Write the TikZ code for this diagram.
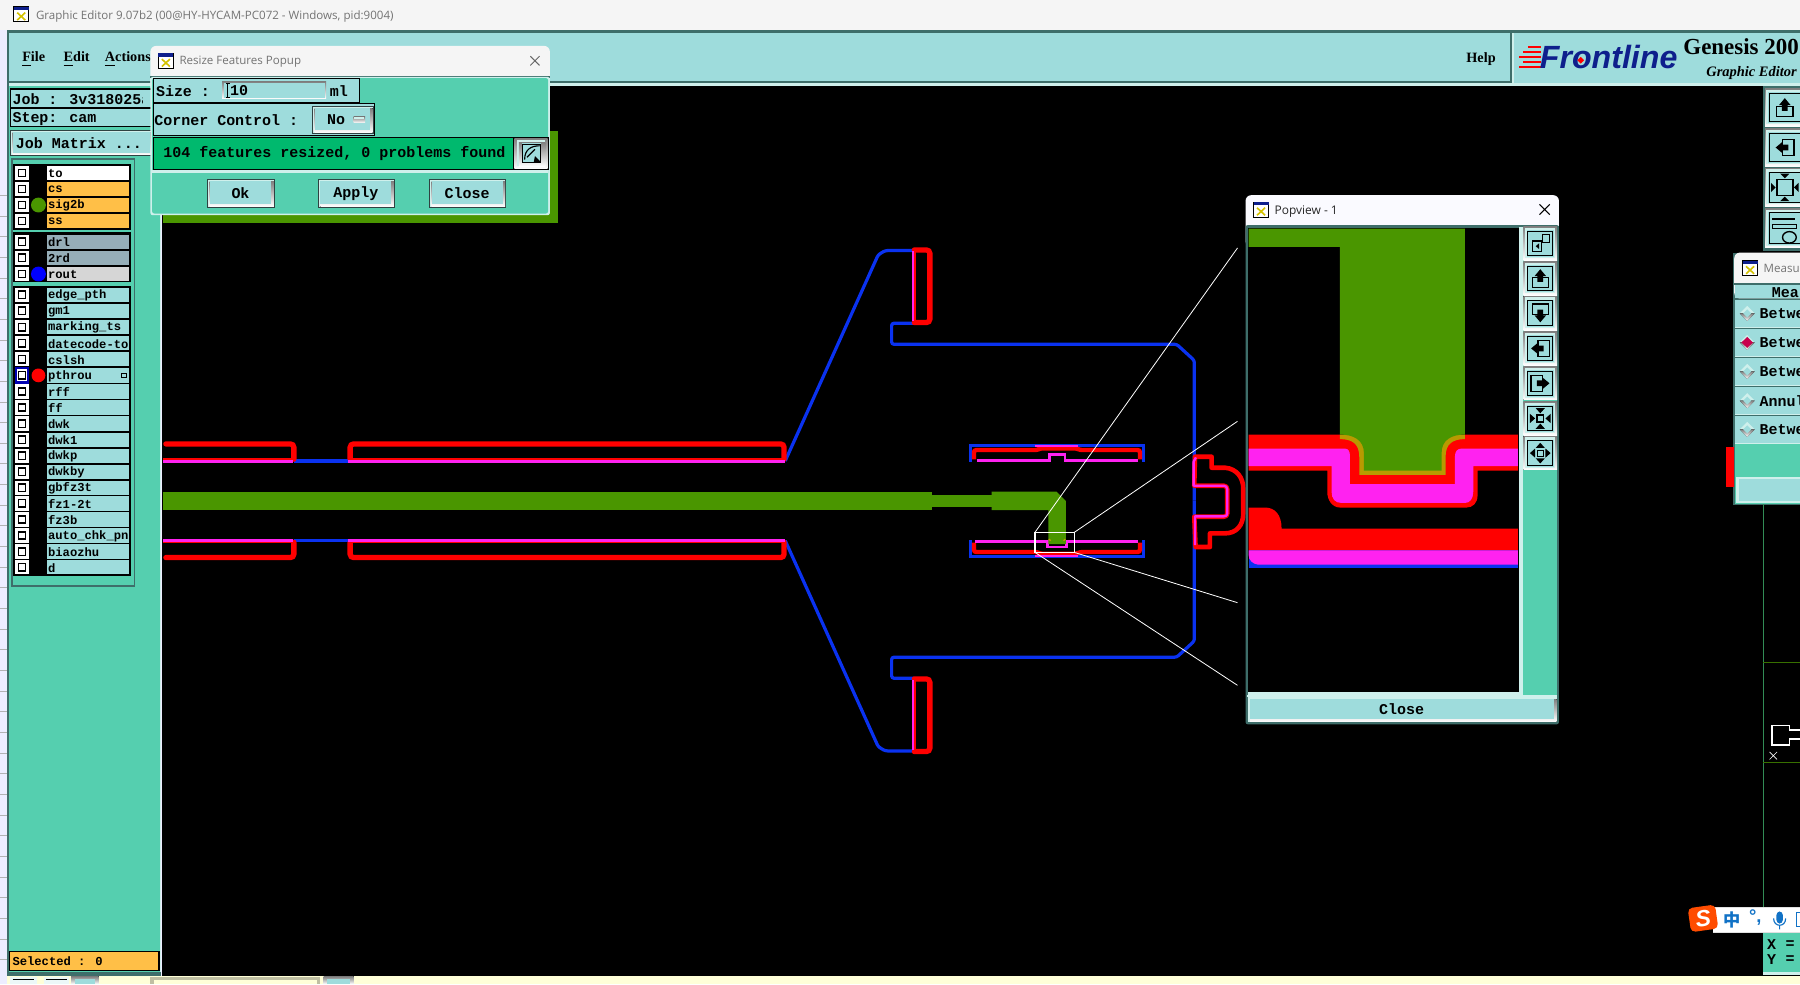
\documentclass[tikz,border=0pt]{standalone}
\usepackage{fontspec}
\setmainfont{Liberation Sans}
\newfontfamily\uimono{Liberation Mono}
\newfontfamily\uiserif{Liberation Serif}
\newfontfamily\uititle{Open Sans}
\newfontfamily\uicjk{Noto Sans CJK SC}
\definecolor{panel}{HTML}{55CFAF}
\definecolor{lteal}{HTML}{9EDCDC}
\definecolor{hilite}{HTML}{CFF0EC}
\definecolor{shade}{HTML}{3F8F83}
\definecolor{dkedge}{HTML}{3E6E6A}
\definecolor{trgreen}{HTML}{4A9600}
\definecolor{trred}{HTML}{FF0000}
\definecolor{trmag}{HTML}{FF22F0}
\definecolor{trblue}{HTML}{0A32F0}
\definecolor{olive}{HTML}{B89A00}
\definecolor{statusg}{HTML}{00B96E}
\definecolor{orangel}{HTML}{FFBF47}
\definecolor{grayl}{HTML}{96AEB8}
\definecolor{pale}{HTML}{FFFFD8}
\definecolor{navy}{HTML}{0E1F8C}
\definecolor{ime}{HTML}{1172C6}
\definecolor{crimson}{HTML}{C8004C}
\tikzset{
  mono/.style={font=\uimono\bfseries\fontsize{6.53}{7}\selectfont,inner sep=0pt,anchor=west,text=black},
  laylab/.style={font=\uimono\bfseries\fontsize{5.3}{6}\selectfont,inner sep=0pt,anchor=west,text=black},
  menu/.style={font=\uiserif\bfseries\fontsize{6.2}{7}\selectfont,inner sep=0pt,anchor=west,text=black},
  wintitle/.style={font=\uititle\fontsize{5.03}{7}\selectfont,inner sep=0pt,anchor=west,text=black!55},
  redt/.style={draw=trred,line width=2.3pt,rounded corners=1.5pt,line cap=round},
  redu/.style={draw=trred,line width=2pt,rounded corners=1.5pt},
  magt/.style={draw=trmag,line width=1.3pt,rounded corners=1.5pt},
  bluet/.style={draw=trblue,line width=1.4pt,rounded corners=1pt},
  padr/.style={draw=trred,line width=1.9pt,rounded corners=1pt},
  padm/.style={draw=trmag,line width=1.25pt},
  ic/.style={draw=black,line width=0.6pt},
  zoomline/.style={draw=white,line width=0.35pt},
}
\newcommand\bevel[4]{%
  \fill[black!70!lteal] (#1,#2) rectangle (#3,#4);
  \fill[hilite] ({#1+1},{#2+1}) rectangle ({#3-1},{#4-1});
  \fill[shade] ({#1+2},{#2+2}) rectangle ({#3-1},{#4-1});
  \fill[lteal] ({#1+2},{#2+2}) rectangle ({#3-3},{#4-3});
}
\newcommand\tbbtn[5]{%
  \fill[shade] (#1,#2) rectangle (#3,#4);
  \fill[hilite] ({#1+1},{#2+1}) rectangle ({#3-2},{#4-2});
  \fill[lteal] ({#1+3},{#2+3}) rectangle ({#3-3},{#4-3});
  \draw[black,line width=0.4pt] ({#1+4},{#2+4}) rectangle ({#3-4},{#4-4});
  \begin{scope}[shift={({(#1+#3)/2},{(#2+#4)/2})}] #5 \end{scope}
}
\newcommand\xicon[2]{%
  \begin{scope}[shift={(#1,#2)}]
    \fill[white] (0,0) rectangle (13,13);
    \draw[black,line width=0.4pt] (0,0) rectangle (13,13);
    \fill[navy] (0,0) rectangle (13,3);
    \draw[olive!60!yellow,line width=0.7pt] (3,5) -- (10,11.5) (10,5) -- (3,11.5);
  \end{scope}
}
\newcommand\icA{\draw[ic] (-7,-2) rectangle (1,7); \draw[ic,line width=0.4pt] (2,-8) rectangle (8,-1); \fill (-4,2.5) -- (-1,0) -- (-1,5) -- cycle;}
\newcommand\icU{\draw[ic] (-7,-1) rectangle (7,8); \fill (0,-8) -- (5,-2) -- (2.5,-2) -- (2.5,3) -- (-2.5,3) -- (-2.5,-2) -- (-5,-2) -- cycle;}
\newcommand\icD{\draw[ic] (-7,-8) rectangle (7,1); \fill (0,8) -- (5,2) -- (2.5,2) -- (2.5,-3) -- (-2.5,-3) -- (-2.5,2) -- (-5,2) -- cycle;}
\newcommand\icL{\draw[ic] (-2,-7) rectangle (8,7); \fill (-8,0) -- (-2,-5) -- (-2,-2.5) -- (3,-2.5) -- (3,2.5) -- (-2,2.5) -- (-2,5) -- cycle;}
\newcommand\icR{\draw[ic] (-8,-7) rectangle (2,7); \fill (8,0) -- (2,-5) -- (2,-2.5) -- (-3,-2.5) -- (-3,2.5) -- (2,2.5) -- (2,5) -- cycle;}
\newcommand\icI{\draw[ic] (-3,-3) rectangle (3,3); \foreach \a in {0,90,180,270}{\fill[rotate=\a] (4.5,0) -- (9,-4) -- (9,4) -- cycle;}}
\newcommand\icO{\draw[ic,line width=0.4pt] (-2.5,-2.5) rectangle (2.5,2.5); \foreach \a in {0,90,180,270}{\fill[rotate=\a] (9,0) -- (4.5,-4) -- (4.5,4) -- cycle;}}
\newcommand\icF{\draw[ic,line width=0.8pt] (-7,-7) rectangle (7,7); \foreach \a in {0,90,180,270}{\fill[rotate=\a] (8,0) -- (12,-4) -- (12,4) -- cycle;}}
\newcommand\icT{\draw[black,line width=1pt] (-11,-8) -- (9,-8); \draw[black,line width=0.4pt] (-11,-3) -- (10,-3) -- (10,0) -- (-11,0) -- cycle; \draw[ic] (4,8) ellipse (6 and 5);}
\newcommand\traceTop{%
  \draw[bluet] (256,401.5) -- (303,401.5);
  \draw[bluet] (684,401.5) -- (765,222) -- (771,218.3) -- (796,218.3);
  \draw[bluet] (796,281.6) -- (776.7,281.6) -- (776.7,299.9) -- (1025,299.9) -- (1040.4,314) -- (1040.4,436.2);
  \draw[redt] (144.5,386.7) -- (256,386.7) -- (256,400);
  \draw[redu] (142,401.3) -- (254,401.3);
  \draw[magt] (142,401.7) -- (255,401.7);
  \draw[redt] (305,400) -- (305,386.7) -- (683,386.7) -- (683,400);
  \draw[redu] (304,401.3) -- (683,401.3);
  \draw[magt] (303,401.7) -- (684,401.7);
  \draw[redt] (796.5,217.7) -- (810,217.7) -- (810,281) -- (796.5,281);
  \draw[draw=trred,line width=1.4pt] (796.4,218) -- (796.4,281);
  \draw[draw=trmag,line width=0.8pt] (795.2,219) -- (795.2,280);
}
\begin{document}
\begin{tikzpicture}[x=0.5pt,y=-0.5pt]
\path[use as bounding box] (0,0) rectangle (1568,857.2);
\clip (0,0) rectangle (1568,857.2);
% desktop, title bar
\fill[white!93!blue] (0,0) rectangle (1568,857.2);
\foreach \yy in {170,188,206,224,242,260,278,296,314,332,350,368,386,404,422,440,458,476,494,512,530,548,566,584,602,620,638,656,674,692,710,728,746,764,782,800,818,836}
  \draw[black!30,line width=0.25pt] (0,\yy) -- (6,\yy);
\fill[black!4] (0,0) rectangle (1568,26);
\fill[dkedge] (6,26) rectangle (1568,28.5);
\xicon{12}{6}
\node[wintitle] (wtitle) at (31,14.5) {Graphic Editor 9.07b2 (00@HY-HYCAM-PC072 - Windows, pid:9004)};
% main window
\fill[dkedge] (6,28) rectangle (8.5,857);
\fill[lteal] (8,28.5) rectangle (1568,72);
\fill[hilite] (8,72) rectangle (1568,75);
\fill[dkedge] (8,70.5) rectangle (1316,72);
\fill[dkedge] (1315.5,28.5) rectangle (1317,72);
\fill[hilite] (1317,28.5) rectangle (1318.5,72);
\fill[black] (141,75) rectangle (1568,850);
\fill[panel] (8,75) rectangle (139,850);
\fill[hilite] (139,75) rectangle (140.5,850);
\fill[pale] (6,850) rectangle (1568,857.2);
% menu
\node[menu] (mfile) at (19,51.5) {\underline{F}ile};
\node[menu] (medit) at (55,51.5) {\underline{E}dit};
\node[menu] (mact) at (91,51.5) {\underline{A}ctions};
\node[menu] (mhelp) at (1277,51.5) {Help};
% logo
\foreach \yy/\xx in {40.6/1331,45/1327,49.4/1323.5,53.8/1327,58/1323.5}
  \draw[trred,line width=0.9pt] (\xx,\yy) -- (1342,\yy);
\node[font=\bfseries\itshape\fontsize{14}{15}\selectfont,text=navy,inner sep=0pt,anchor=west] (flogo) at (1341,50) {Frontline};
\fill[trred] (1377,49.5) -- (1380,52.5) -- (1377,55.5) -- (1374,52.5) -- cycle;
\node[font=\uiserif\bfseries\fontsize{10}{11}\selectfont,inner sep=0pt,anchor=west] (gen) at (1466,41) {Genesis 200};
\node[font=\uiserif\bfseries\itshape\fontsize{6.3}{7}\selectfont,inner sep=0pt,anchor=west] (ged) at (1486,64) {Graphic Editor};
% left panel top rows
\fill[black] (9,77) rectangle (132,111);
\fill[lteal] (10,78) rectangle (132,93);
\fill[lteal] (10,95) rectangle (132,110);
\begin{scope}
  \clip (10,78) rectangle (124.5,110);
  \node[mono] (job) at (10.5,86) {Job : 3v318025a};
  \node[mono] (stepl) at (10.5,103.5) {Step: cam};
\end{scope}
\bevel{9}{113}{134}{136}
\node[mono] (jm) at (13.5,124.5) {Job Matrix ...};
% layer list
\fill[dkedge] (10,138) rectangle (118,511);
\fill[panel] (11,139) rectangle (117,510);
\fill[black] (11,142.5) rectangle (114.5,200);
\fill[black] (11,202.5) rectangle (114.5,246);
\fill[black] (11,249) rectangle (114.5,502);
\begin{scope}
\clip (11,142) rectangle (112.5,502);
\foreach \yy/\lab/\col/\nm in {
 150.7/to/white/a,164.6/cs/orangel/b,178.6/sig2b/orangel/c,192.5/ss/orangel/d,
 210.5/drl/grayl/e,224.6/2rd/grayl/f,238.7/rout/black!16/g,
 256.7/edge\_pth/lteal/h,270.8/gm1/lteal/i,285/marking\_ts/lteal/j,299/datecode-to/lteal/k,313/cslsh/lteal/l,
 327/pthrou/lteal/m,341/rff/lteal/n,355/ff/lteal/o,369/dwk/lteal/p,383/dwk1/lteal/q,397/dwkp/lteal/r,
 411/dwkby/lteal/s,425/gbfz3t/lteal/t,438.5/fz1-2t/lteal/u,452.5/fz3b/lteal/v,466.5/auto\_chk\_pnl/lteal/w,480.5/biaozhu/lteal/x,494/d/lteal/y}{
  \fill[\col] (41,\yy-6.2) rectangle (112.5,\yy+6.2);
  \fill[white] (13,\yy-6.2) rectangle (25.2,\yy+6.2);
  \draw[black,line width=0.65pt] (16,\yy-3.2) rectangle (22.3,\yy+3.2);
  \node[laylab] (lay\nm) at (41.5,\yy+0.5) {\lab};
}
\end{scope}
\draw[blue!70!black,line width=1pt] (14,320.8) rectangle (24.2,333.2);
\fill[trgreen] (33.5,178.6) circle (6.5);
\fill[blue] (33.5,238.7) circle (6.5);
\fill[trred] (33.5,327) circle (6);
\fill[black] (105.5,324.5) rectangle (110.5,329.5);
\fill[lteal] (106.5,325.5) rectangle (109.5,328.5);
% selected
\fill[black] (8,828.5) rectangle (139,846);
\fill[orangel] (9,829.5) rectangle (138,845);
\node[laylab] (sel) at (10.5,837.5) {Selected : 0};
% bottom strip
\fill[dkedge] (6,846.5) rectangle (140.5,850);
\foreach \a/\b in {9/32,38/60}{\fill[white!80!lteal] (\a,851) rectangle (\b,857.2); \draw[black,line width=0.4pt] (\a+2,853.5) -- (\b-2,853.5);}
\fill[shade] (62,850.5) rectangle (86,857.2); \fill[lteal] (65,853) rectangle (83,857.2);
\fill[black!25!pale] (131,851) rectangle (279,857.2);
\fill[pale] (134,853.5) rectangle (276,857.2);
\fill[shade] (282,850.5) rectangle (308,857.2); \fill[lteal] (285,853) rectangle (305,857.2);
% board outline, traces
\fill[trgreen] (142,114) rectangle (486,194);
\traceTop
\begin{scope}[shift={(0,872.4)},yscale=-1] \traceTop \end{scope}
% green trace
\fill[trgreen] (142,428.8) rectangle (812,444.2);
\fill[trgreen] (812,431.2) rectangle (864,441.4);
\begin{scope}[shift={(827.5,365.9)},scale=1/3.444]
  % upper pad
  \draw[trblue,line width=1.15pt] (62,125) -- (62,77) -- (581,77) -- (581,125);
  \draw[padr] (72,118) -- (72,90) -- (262,90) -- (270,85) -- (380,85) -- (390,90) -- (570,90) -- (570,118);
  \draw[padm] (80,121) -- (298,121) -- (298,103) -- (345,103) -- (345,121) -- (563,121);
  \draw[padm] (255,78) -- (385,78);
  % lower pad
  \draw[trblue,line width=1.15pt] (62,360) -- (62,409) -- (581,409) -- (581,360);
  \draw[padr] (72,368) -- (72,396) -- (262,396) -- (270,401) -- (380,401) -- (390,396) -- (570,396) -- (570,368);
  \draw[padm] (75,365) -- (292,365) -- (292,381) -- (350,381) -- (350,365) -- (565,365);
  \draw[padm] (255,408) -- (385,408);
  % neck and elbow
  \fill[trgreen] (125,215) -- (320,215) -- (348,243) -- (348,372) -- (295,372) -- (295,270) -- (125,270) -- cycle;
  \draw[olive,line width=0.6pt] (297,357) -- (302,362) (346,357) -- (341,362);
  % C shape
  \draw[draw=trred,line width=2pt,line join=round] (735,110) -- (785,110) -- (785,143) -- (825,143) .. controls (862,146) and (880,175) .. (880,205) -- (880,280) .. controls (880,315) and (860,340) .. (825,340) -- (780,340) -- (780,381) -- (737,381) -- (733,290) -- (822,290) .. controls (828,290) and (832,286) .. (832,280) -- (832,208) .. controls (832,202) and (828,197) .. (822,197) -- (733,197) -- cycle;
  \draw[draw=trmag,line width=1pt,line join=round] (738,112) -- (731,125) -- (731,197) -- (822,197) .. controls (828,197) and (832,202) .. (832,208) -- (832,280) .. controls (832,286) and (828,289) .. (822,289) -- (735,289) -- (735,375);
  % zoom box
  \coordinate (ztl) at (255,337); \coordinate (ztr) at (373,337);
  \coordinate (zbl) at (255,397); \coordinate (zbr) at (373,397);
  \draw[zoomline,line width=0.5pt] (ztl) rectangle (zbr);
\end{scope}
\coordinate (e1) at (1078,216); \coordinate (e2) at (1078,367); \coordinate (e3) at (1078,525); \coordinate (e4) at (1078,597);
\draw[zoomline] (ztl) -- (e1) (ztr) -- (e2) (zbr) -- (e3) (zbl) -- (e4);
% popup
\fill[black!4,rounded corners=2.5pt] (131,40) rectangle (479,80);
\fill[dkedge] (131,66) rectangle (479,68);
\fill[hilite,rounded corners=1pt] (131,67) rectangle (479,187.5);
\fill[panel,rounded corners=1pt] (132.5,68) rectangle (477.5,186);
\xicon{138}{46.5}
\node[wintitle] (ptitle) at (156,54) {Resize Features Popup};
\draw[black!60,line width=0.4pt] (462,49) -- (470,57) (470,49) -- (462,57);
\fill[black] (133,68) rectangle (313.5,89.5);
\fill[lteal] (134,69) rectangle (312.5,88.5);
\fill[shade] (193.5,71) rectangle (284,86);
\fill[lteal] (195.5,72) rectangle (283.5,85.5);
\node[mono] (psize) at (135.5,79) {Size :};
\node[mono] (pval) at (200,79) {10};
\node[mono] (pml) at (287,79) {ml};
\draw[black,line width=0.4pt] (198.5,73) -- (198.5,85) (197,73) -- (200,73) (197,85) -- (200,85);
\fill[black] (133,90) rectangle (326.5,118.5);
\fill[lteal] (134,91) rectangle (325.5,117.5);
\node[mono] (pcc) at (134,104.5) {Corner Control :};
\bevel{272}{92.5}{325.5}{116.5}
\node[mono] (pno) at (284.5,104.5) {No};
\fill[shade] (308,101.5) rectangle (318,107);
\fill[hilite] (308,101.5) rectangle (317,104);
\fill[black] (133,119) rectangle (478,148);
\fill[statusg] (134,120) rectangle (447,147);
\node[mono] (pstat) at (142,133.5) {104 features resized, 0 problems found};
\fill[shade] (448,120.5) rectangle (477,147);
\fill[hilite] (450,122) rectangle (475,145);
\fill[shade] (452,124) rectangle (475,145);
\fill[lteal] (455,125) rectangle (471.5,142);
\draw[black,line width=0.4pt] (455.5,125.5) rectangle (471,141.5);
\draw[black,line width=0.5pt] (457,139) .. controls (457,130) and (463,127) .. (470,127) (459,137) -- (466,130);
\fill[black] (466,136) -- (471,141) -- (465,141) -- cycle;
\fill[hilite] (132.5,148.5) rectangle (477.5,150.5);
\bevel{180.5}{156}{239.5}{181}
\bevel{277}{156}{344}{181}
\bevel{374}{156}{441}{181}
\node[mono,anchor=center] (pok) at (209.5,168.5) {Ok};
\node[mono,anchor=center] (pap) at (310,168.5) {Apply};
\node[mono,anchor=center] (pcl) at (407,168.5) {Close};
% right toolbar
\fill[dkedge] (1535.5,75) rectangle (1568,219);
\tbbtn{1537.5}{77}{1572}{110}{\icU}
\tbbtn{1537.5}{112}{1572}{145}{\icL}
\tbbtn{1537.5}{146.6}{1572}{180}{\icF}
\tbbtn{1537.5}{181.5}{1572}{216}{\icT}
% popview
\fill[black!2!blue!2!white,rounded corners=2.5pt] (1085,170) rectangle (1358,215);
\fill[dkedge,rounded corners=1pt] (1085,196) rectangle (1358,631);
\fill[panel] (1327,198) rectangle (1356.5,605);
\fill[hilite] (1323.4,198) rectangle (1326.5,605);
\fill[hilite] (1087,602.5) rectangle (1326.5,605);
\fill[black] (1087.5,199) rectangle (1323.4,602.5);
\xicon{1092}{176}
\node[font=\uititle\fontsize{5.2}{7}\selectfont,inner sep=0pt,anchor=west,text=black!85] (pvt) at (1110,184) {Popview - 1};
\draw[black,line width=0.45pt] (1341,178) -- (1350,187) (1350,178) -- (1341,187);
\fill[dkedge] (1326.5,197) rectangle (1358,200);
\tbbtn{1327}{197.4}{1356.5}{226.5}{\icA}
\tbbtn{1327}{228}{1356.5}{257}{\icU}
\tbbtn{1327}{258}{1356.5}{287.5}{\icD}
\tbbtn{1327}{289}{1356.5}{318}{\icL}
\tbbtn{1327}{319.4}{1356.5}{348.4}{\icR}
\tbbtn{1327}{350}{1356.5}{379}{\icI}
\tbbtn{1327}{380}{1356.5}{409.4}{\icO}
\fill[hilite] (1086.5,605) rectangle (1356.5,607.5);
\fill[hilite] (1087,607) rectangle (1356,628.5);
\fill[shade] (1089,609) rectangle (1356,628.5);
\fill[lteal] (1089,609) rectangle (1354,626.5);
\node[mono,anchor=center] (pvc) at (1221,618) {Close};
% popview contents
\begin{scope}[shift={(1080.1,165.5)},xscale=1/3.444,yscale=1/3.272]
  \fill[trred] (26,697) -- (834,697) -- (834,800) -- (713,800) -- (713,870) .. controls (713,893) and (698,905) .. (680,905) -- (300,905) .. controls (278,905) and (262,885) .. (262,860) -- (262,800) -- (26,800) -- cycle;
  \fill[trmag] (26,737) -- (315,737) .. controls (325,737) and (330,745) .. (330,757) -- (330,838) -- (645,838) -- (645,760) .. controls (645,745) and (652,737) .. (665,737) -- (834,737) -- (834,787) -- (700,787) -- (700,860) .. controls (700,880) and (690,892) .. (675,892) -- (305,892) .. controls (285,892) and (275,880) .. (275,860) -- (275,787) -- (26,787) -- cycle;
  \fill[olive] (300,697) -- (675,697) -- (675,710) .. controls (640,710) and (617,722) .. (617,760) -- (617,812) -- (358,812) -- (358,760) .. controls (358,722) and (335,710) .. (300,710) -- cycle;
  \fill[trgreen] (26,110) -- (675,110) -- (675,697) .. controls (635,697) and (605,712) .. (605,750) -- (605,800) -- (372,800) -- (372,750) .. controls (372,712) and (340,697) .. (300,697) -- (300,162) -- (26,162) -- cycle;
  \fill[trblue] (26,1027) rectangle (834,1078);
  \fill[trred] (26,905) -- (75,905) .. controls (105,905) and (125,925) .. (125,965) -- (834,965) -- (834,1027) -- (26,1027) -- cycle;
  \fill[trmag] (26,1027) -- (834,1027) -- (834,1068) -- (55,1068) .. controls (38,1066) and (26,1055) .. (26,1040) -- cycle;
\end{scope}
% measure window
\fill[dkedge] (1510,220) rectangle (1568,440);
\fill[black!4,rounded corners=2.5pt] (1510.7,220) rectangle (1580,260);
\fill[dkedge] (1510.7,246.5) rectangle (1568,248);
\xicon{1518}{227}
\node[wintitle] (mtitle) at (1536,234) {Measu};
\fill[lteal] (1511.5,248) rectangle (1568,260);
\node[mono] (mhead) at (1543,254.5) {Mea};
\foreach \ya/\yb/\lab/\nm in {261/285/Betwe/a,286.6/310/Betwe/b,312/335/Betwe/c,337/361/Annul/d,362/386/Betwe/e}{
  \fill[lteal] (1511.5,\ya) rectangle (1568,\yb);
  \fill[hilite] (1511.5,\yb) rectangle (1568,\yb+0.5);
  \fill[hilite] (1522,{(\ya+\yb)/2-6.5}) -- (1528.5,{(\ya+\yb)/2}) -- (1515.5,{(\ya+\yb)/2}) -- cycle;
  \fill[shade] (1528.5,{(\ya+\yb)/2}) -- (1522,{(\ya+\yb)/2+6.5}) -- (1515.5,{(\ya+\yb)/2}) -- cycle;
  \fill[lteal] (1522,{(\ya+\yb)/2-3.5}) -- (1525.5,{(\ya+\yb)/2}) -- (1522,{(\ya+\yb)/2+3.5}) -- (1518.5,{(\ya+\yb)/2}) -- cycle;
  \node[mono] (mrow\nm) at (1532.5,{(\ya+\yb)/2}) {\lab};
}
\fill[crimson] (1522,293.5) -- (1527,298.3) -- (1522,303) -- (1517,298.3) -- cycle;
\fill[panel] (1511.5,387) rectangle (1568,439);
\fill[hilite] (1512.5,415.5) rectangle (1568,438);
\fill[lteal] (1514.5,417) rectangle (1568,436.5);
\fill[trred] (1503.5,389) rectangle (1510.5,424);
% right side, lower
\fill[dkedge!80!green] (1535.5,439) rectangle (1536.7,815);
\draw[trgreen!75!black,line width=0.5pt] (1536,577.2) -- (1568,577.2) (1536,664) -- (1568,664);
\draw[white,line width=0.7pt] (1568,636) -- (1559,636) -- (1559,632) -- (1543.5,632) -- (1543.5,649) -- (1559,649) -- (1559,644) -- (1568,644);
\draw[white,line width=0.3pt] (1541.5,655) -- (1548,661.5) (1548,655) -- (1541.5,661.5);
% xy panel
\fill[panel] (1536,812) rectangle (1568,847);
\fill[hilite] (1536,847) rectangle (1568,849.5);
\node[mono] (xl) at (1539,822.6) {X};
\node[mono] (xe) at (1555,822.6) {=};
\node[mono] (yl) at (1539,835.7) {Y};
\node[mono] (ye) at (1555,835.7) {=};
% IME
\fill[white] (1492,790.5) rectangle (1568,812.5);
\draw[black!12,line width=0.4pt] (1492,790.5) -- (1568,790.5) (1492,812.5) -- (1568,812.5);
\node[fill=orange!60!red,rounded corners=2pt,rotate=8,minimum width=12pt,minimum height=10.5pt,inner sep=0pt,font=\bfseries\itshape\fontsize{10}{11}\selectfont,text=white] (sogou) at (1483.5,800) {S};
\node[font=\uicjk\bfseries\fontsize{7.5}{8}\selectfont,text=ime,inner sep=0pt] (imezh) at (1508.5,801) {中};
\node[font=\bfseries\fontsize{8}{8}\selectfont,text=ime,inner sep=0pt] (imep) at (1529,799) {°,};
\fill[ime,rounded corners=1.5pt] (1547.5,794) rectangle (1553,804.5);
\draw[ime,line width=0.5pt] (1545,800) .. controls (1545,808) and (1555.5,808) .. (1555.5,800) (1550.2,806) -- (1550.2,809.5);
\draw[ime,line width=0.7pt] (1565,795) rectangle (1570,807);
\end{tikzpicture}
\end{document}
